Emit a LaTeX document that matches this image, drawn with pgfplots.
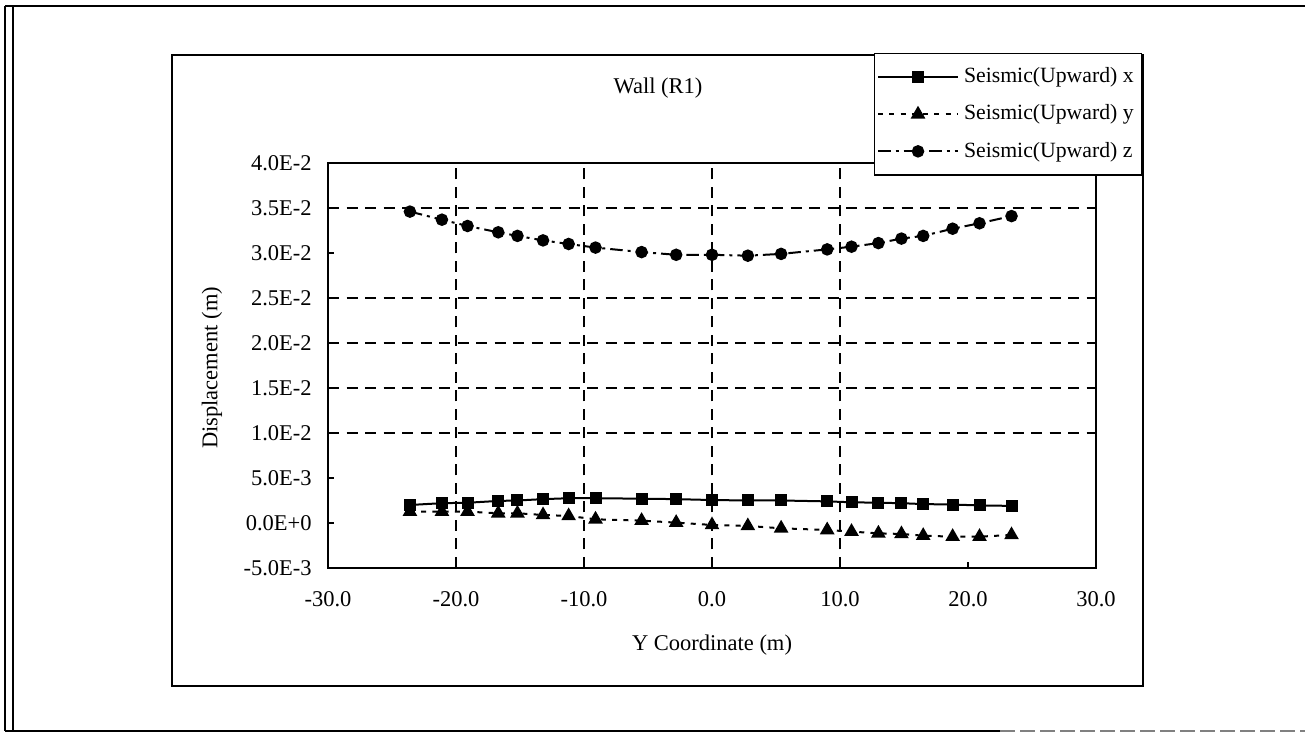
\documentclass[border=0pt]{standalone}
\usepackage{fontspec}
\setmainfont{Liberation Serif}
\usepackage{pgfplots}
\pgfplotsset{compat=1.18}
\usepackage{pgfplotstable}

% Wall (R1): displacement components along the Y coordinate
\pgfplotstableread{
ycoord  dx       dy        dz
-23.6   0.00200  0.00126   0.0346
-21.1   0.00220  0.00126   0.0337
-19.1   0.00225  0.00126   0.0330
-16.7   0.00245  0.00108   0.0323
-15.2   0.00250  0.00108   0.0319
-13.2   0.00265  0.00089   0.0314
-11.2   0.00275  0.00078   0.0310
-9.1    0.00275  0.00041   0.0306
-5.5    0.00270  0.00026   0.0301
-2.8    0.00265  0.00004   0.0298
0.0     0.00255  -0.00022  0.0298
2.8     0.00250  -0.00033  0.0297
5.4     0.00250  -0.00059  0.0299
9.0     0.00240  -0.00078  0.0304
10.9    0.00230  -0.00096  0.0307
13.0    0.00225  -0.00115  0.0311
14.8    0.00220  -0.00122  0.0316
16.5    0.00210  -0.00141  0.0319
18.8    0.00205  -0.00152  0.0327
20.9    0.00195  -0.00152  0.0333
23.4    0.00190  -0.00133  0.0341
}\wallRone

\begin{document}
\begin{tikzpicture}
% page frame (1 px = 0.4pt)
\useasboundingbox (0,0) rectangle (522pt,-293.6pt);
\draw[line width=0.8pt] (2pt,-2.4pt) -- (522pt,-2.4pt);
\draw[line width=0.8pt] (2pt,-2.4pt) -- (2pt,-292.4pt);
\draw[line width=0.8pt] (5.2pt,-2.4pt) -- (5.2pt,-292.4pt);
\draw[line width=0.8pt] (2pt,-292.4pt) -- (400pt,-292.4pt);
\draw[line width=0.6pt, gray, dash pattern=on 6pt off 2pt] (400pt,-292.4pt) -- (522pt,-292.4pt);
% chart area
\draw[line width=0.6pt] (68.8pt,-22pt) rectangle (457.2pt,-274.4pt);
% chart title
\node[font=\fontsize{9}{10}\selectfont] at (263.2pt,-35.2pt) {Wall (R1)};

\begin{axis}[
  at={(131.2pt,-65.2pt)}, anchor=north west,
  scale only axis, width=307.2pt, height=162pt,
  xmin=-30, xmax=30, ymin=-0.005, ymax=0.04,
  axis line style={line width=0.7pt},
  every tick/.style={black, line width=0.6pt},
  tick align=inside, major tick length=2.4pt,
  xtick pos=bottom, ytick pos=left,
  xtick={-30,-20,...,30},
  xticklabels={-30.0,-20.0,-10.0,0.0,10.0,20.0,30.0},
  ytick={-0.005,0,0.005,0.01,0.015,0.02,0.025,0.03,0.035,0.04},
  yticklabels={-5.0E-3,0.0E+0,5.0E-3,1.0E-2,1.5E-2,2.0E-2,2.5E-2,3.0E-2,3.5E-2,4.0E-2},
  scaled y ticks=false,
  extra x ticks={-20,-10,0,10},
  extra x tick labels={},
  extra y ticks={0.01,0.015,0.02,0.025,0.035},
  extra y tick labels={},
  extra tick style={grid=major, major tick length=0pt},
  grid style={black, line width=0.5pt, dash pattern=on 4.4pt off 3pt},
  ticklabel style={font=\fontsize{9}{10}\selectfont},
  xticklabel style={yshift=-6pt},
  yticklabel style={xshift=-3pt},
  xlabel={Y Coordinate (m)},
  xlabel style={at={(axis description cs:0.5,-0.19)}, anchor=center, font=\fontsize{9}{10}\selectfont},
  ylabel={Displacement (m)},
  ylabel style={at={(axis description cs:-0.151,0.494)}, anchor=center, rotate=0, font=\fontsize{9}{10}\selectfont},
  legend style={at={(axis description cs:1.0599,1.2716)}, anchor=north east,
    draw=black, line width=0.6pt, fill=white, font=\fontsize{8.7}{10}\selectfont,
    inner xsep=1pt, inner ysep=3.6pt, row sep=3.3pt,
    nodes={yshift=-3pt}},
  legend cell align=left,
  legend image code/.code={
    \draw[mark repeat=2, mark phase=2, yshift=-3pt] plot coordinates {(0pt,0pt) (16pt,0pt) (32pt,0pt)};},
  clip=false,
]
\addplot[black, line width=0.8pt, mark=square*, mark size=2pt, mark options={solid}]
  table[x=ycoord, y=dx] {\wallRone};
\addlegendentry{Seismic(Upward) x}
\addplot[black, line width=0.8pt, dash pattern=on 2pt off 2.5pt, mark=triangle*, mark size=2.6pt, mark options={solid}]
  table[x=ycoord, y=dy] {\wallRone};
\addlegendentry{Seismic(Upward) y}
\addplot[black, line width=0.8pt, dash pattern=on 5pt off 2pt on 1.2pt off 2pt, mark=*, mark size=2.1pt, mark options={solid}]
  table[x=ycoord, y=dz] {\wallRone};
\addlegendentry{Seismic(Upward) z}
\end{axis}
\end{tikzpicture}
\end{document}
